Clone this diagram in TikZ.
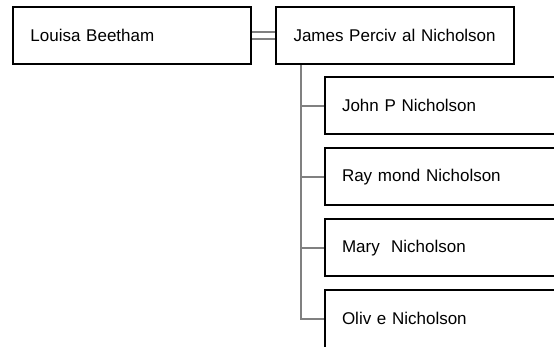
\documentclass[tikz,border=0pt]{standalone}
\usepackage{fontspec}
\setmainfont{Liberation Sans}
\usepackage{tikz}
\definecolor{linkgray}{RGB}{128,128,128}

\begin{document}
\begin{tikzpicture}[x=1pt, y=-1pt,
    person/.style={draw, line width=2pt, rectangle, anchor=north west,
        minimum height=57.5pt, text width=203pt, inner xsep=17.5pt,
        align=left, font=\fontsize{17}{20}\selectfont},
    link/.style={draw=linkgray, line width=2pt}]

    \useasboundingbox (0, 0) rectangle (554, 347);

    \node[person] (louisa) at (12, 6) {Louisa Beetham};
    \node[person] (james) at (275, 6) {James Perciv al Nicholson};

    \node[person] (john) at (323.5, 76) {John P Nicholson};
    \node[person] (raymond) at (323.5, 147) {Ray mond Nicholson};
    \node[person] (mary) at (323.5, 218) {Mary \ Nicholson};
    \node[person] (olive) at (323.5, 289) {Oliv e Nicholson};

    \draw[link] ([yshift=3.5pt]louisa.east) -- ([yshift=3.5pt]james.west);
    \draw[link] ([yshift=-3.5pt]louisa.east) -- ([yshift=-3.5pt]james.west);

    \coordinate (trunk) at ([xshift=26pt]james.south west);
    \draw[link] (trunk) |- (olive.west);
    \foreach \kid in {john, raymond, mary}
        \draw[link] (trunk |- \kid.west) -- (\kid.west);
    \end{tikzpicture}
\end{document}
